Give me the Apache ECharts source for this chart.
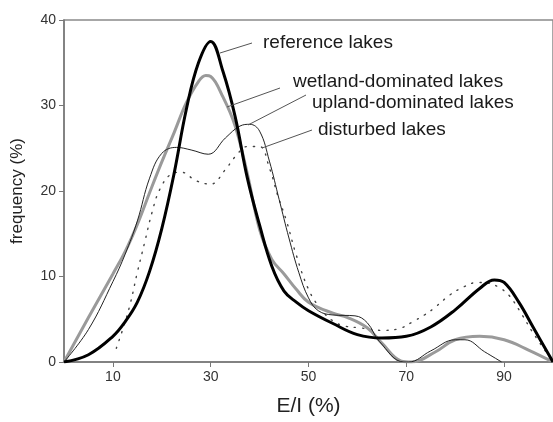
<!DOCTYPE html>
<html>
<head>
<meta charset="utf-8">
<script src="https://cdn.jsdelivr.net/npm/echarts@6/dist/echarts.min.js"></script>
<style>
html,body{margin:0;padding:0;background:#fff;}
#c{width:553px;height:422px;}
</style>
</head>
<body>
<div id="c"></div>
<script>
// ---- data ----
const xTicks = [10, 30, 50, 70, 90];
const yTicks = [0, 10, 20, 30, 40];

const refX = [0, 5, 10, 12.5, 15, 17.5, 20, 22.5, 25, 27.5, 30, 32.5, 35, 37.5, 40, 42.5, 45, 47.5, 50, 55, 60, 65, 70, 75, 80, 85, 88, 90, 93, 96, 100];
const refY = [0, 0.85, 3.0, 4.7, 7.0, 10.6, 15.6, 22, 29.5, 35, 37.5, 34, 28.7, 21.5, 16, 11.2, 8.3, 7, 6.0, 4.5, 3.2, 2.8, 3.0, 4.1, 6.1, 8.6, 9.6, 9.3, 7, 4, 0];

const wetX = [0, 5, 10, 12.5, 15, 17.5, 20, 22.5, 25, 27.5, 29, 30, 32.5, 35, 37.5, 40, 42.5, 45, 47.5, 50, 55, 58, 62, 65, 69, 71, 76, 80, 85, 90, 95, 100];
const wetY = [0, 5.2, 10.3, 12.9, 16.1, 19.8, 23.4, 26.8, 30.3, 32.8, 33.5, 33.4, 31, 27.6, 22, 15.5, 12, 10.3, 8.5, 7.0, 5.7, 5.2, 4.0, 2.2, 0.1, 0, 1.2, 2.6, 3.0, 2.6, 1.4, 0];

const uplX = [0, 5, 10, 12.5, 15, 17.5, 20, 23, 26, 29.5, 33, 36, 38, 40, 42, 44, 46, 48, 50, 52, 55, 59.5, 62, 64.5, 69.5, 70.5, 75, 80, 82, 86, 89.5];
const uplY = [0, 3.8, 9.4, 12.6, 16.5, 21.5, 24.4, 25.1, 24.8, 24.3, 26.2, 27.6, 27.8, 27, 23.5, 19, 14.5, 10.5, 7.5, 6, 5.5, 5.4, 4.6, 2.4, 0, 0, 1.3, 2.6, 2.6, 1.2, 0];

const disX = [10.7, 12, 13.5, 15, 16.5, 18, 19.6, 22, 24, 27, 30, 33, 35, 37.5, 40, 42, 43.7, 45.5, 47.5, 50, 52.5, 55, 57.5, 60.5, 65, 68.5, 71.3, 73.7, 75.7, 78.8, 81.8, 84.5, 87, 89, 91, 93.7, 95.7, 100];
const disY = [1.6, 3.8, 6.7, 10.5, 14, 17.5, 20.2, 22, 22.2, 21.2, 20.8, 22.5, 24, 25.2, 25.2, 22.7, 19.5, 16.5, 12.5, 8.5, 6.2, 4.8, 4.2, 4.0, 3.7, 3.9, 4.7, 5.5, 6.3, 7.8, 8.8, 9.3, 9.2, 8.7, 7.8, 5.5, 3.6, 0];

const seriesNames = ['reference lakes', 'wetland-dominated lakes', 'upland-dominated lakes', 'disturbed lakes'];

function pairs(xs, ys) { return xs.map((x, i) => [x, ys[i]]); }

const FONT = '"Liberation Sans", Arial, sans-serif';
const chart = echarts.init(document.getElementById('c'), null, {renderer: 'canvas'});

const option = {
  animation: false,
  backgroundColor: '#fff',
  grid: {left: 64, right: 0, top: 20, bottom: 58, show: true, borderColor: '#8a8a8a', borderWidth: 1.5, backgroundColor: 'transparent'},
  xAxis: {
    type: 'value', min: 0, max: 100,
    name: 'E/I (%)', nameLocation: 'middle', nameGap: 34,
    nameTextStyle: {fontFamily: FONT, fontSize: 21, color: '#222'},
    axisLine: {show: true, lineStyle: {color: '#777', width: 1.5}},
    axisTick: {show: true, length: 5, customValues: xTicks, lineStyle: {color: '#777'}},
    axisLabel: {customValues: xTicks, fontFamily: FONT, fontSize: 14, color: '#333', margin: 8},
    splitLine: {show: false}
  },
  yAxis: {
    type: 'value', min: 0, max: 40, interval: 10,
    name: 'frequency (%)', nameLocation: 'middle', nameGap: 38, nameRotate: 90,
    nameTextStyle: {fontFamily: FONT, fontSize: 17, color: '#222'},
    axisLine: {show: true, lineStyle: {color: '#777', width: 1.5}},
    axisTick: {show: true, length: 5, lineStyle: {color: '#777'}},
    axisLabel: {fontFamily: FONT, fontSize: 14, color: '#333', margin: 8},
    splitLine: {show: false}
  },
  series: [
    {name: seriesNames[3], type: 'line', data: pairs(disX, disY), smooth: 0.4, showSymbol: false,
     lineStyle: {color: '#444', width: 1.4, type: [1.2, 7], cap: 'round'}, z: 2},
    {name: seriesNames[1], type: 'line', data: pairs(wetX, wetY), smooth: 0.4, showSymbol: false,
     lineStyle: {color: '#9a9a9a', width: 3}, z: 3},
    {name: seriesNames[2], type: 'line', data: pairs(uplX, uplY), smooth: 0.4, showSymbol: false,
     lineStyle: {color: '#222', width: 1}, z: 4},
    {name: seriesNames[0], type: 'line', data: pairs(refX, refY), smooth: 0.4, showSymbol: false,
     lineStyle: {color: '#000', width: 3}, z: 5}
  ]
};
chart.setOption(option);

// annotations: leader lines + labels
const ann = [
  {text: seriesNames[0], line: [220, 53, 252, 43], tx: 263, ty: 43},
  {text: seriesNames[1], line: [227, 107, 280, 88], tx: 293, ty: 82},
  {text: seriesNames[2], line: [248, 125, 306, 95], tx: 312, ty: 103},
  {text: seriesNames[3], line: [262, 148, 312, 130], tx: 318, ty: 130}
];
const g = [];
ann.forEach(a => {
  g.push({type: 'line', shape: {x1: a.line[0], y1: a.line[1], x2: a.line[2], y2: a.line[3]},
          style: {stroke: '#555', lineWidth: 1}, z: 10});
  g.push({type: 'text', x: a.tx, y: a.ty,
          style: {text: a.text, fill: '#1a1a1a', font: '19px ' + FONT, textVerticalAlign: 'middle', verticalAlign: 'middle'}, z: 10});
});
chart.setOption({graphic: g});
</script>
</body>
</html>
